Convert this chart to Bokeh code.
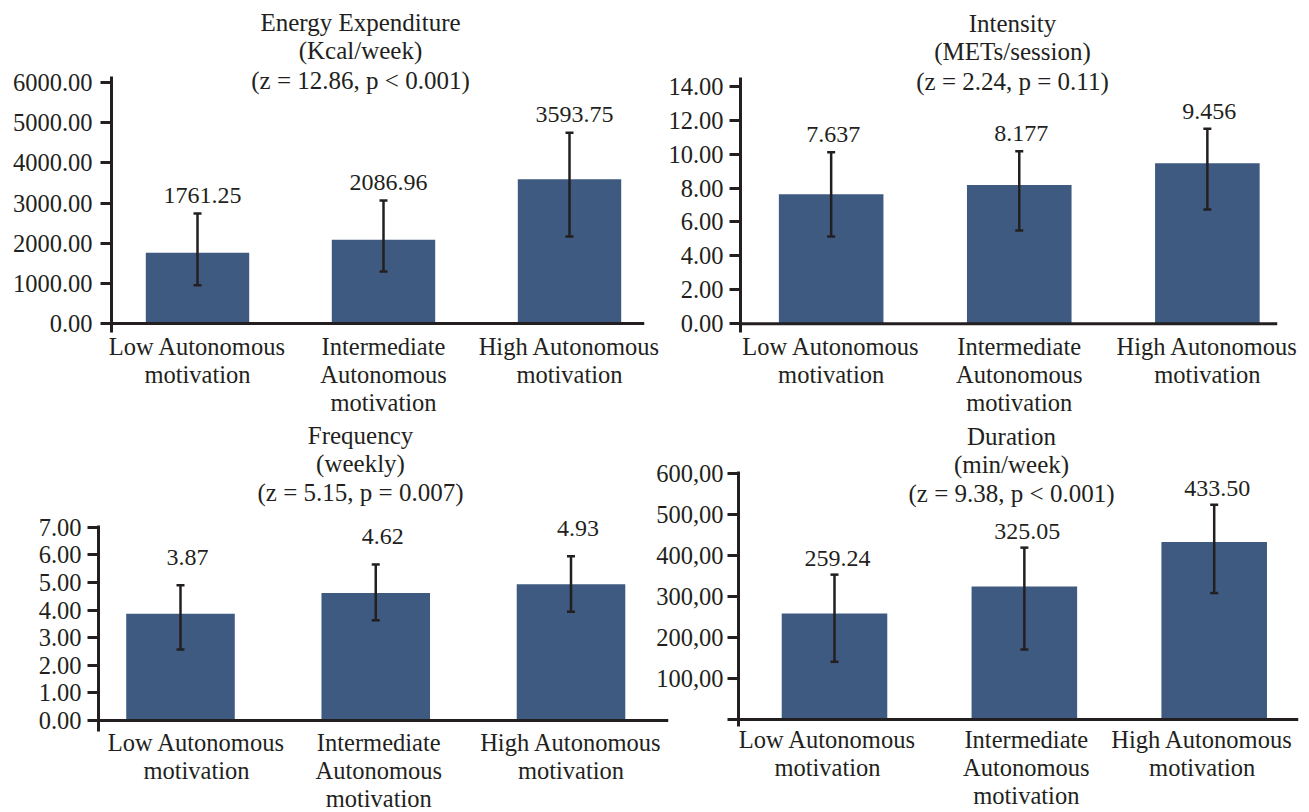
from bokeh.plotting import figure
from bokeh.models import Range1d, FixedTicker, Span, Whisker, TeeHead, ColumnDataSource
from bokeh.layouts import column, row
from bokeh.embed import file_html
from bokeh.resources import INLINE
from bokeh.core.properties import value

# ---------------- data ----------------
categories = ["Low Autonomous\nmotivation",
              "Intermediate\nAutonomous\nmotivation",
              "High Autonomous\nmotivation"]

energy_title = ["Energy Expenditure", "(Kcal/week)", "(z = 12.86, p < 0.001)"]
energy_mean = [1761.25, 2086.96, 3593.75]
energy_upper = [2740, 3060, 4750]
energy_lower = [950, 1295, 2165]
energy_ticks = [0, 1000, 2000, 3000, 4000, 5000, 6000]
energy_tick_labels = ["0.00", "1000.00", "2000.00", "3000.00", "4000.00", "5000.00", "6000.00"]

intensity_title = ["Intensity", "(METs/session)", "(z = 2.24, p = 0.11)"]
intensity_mean = [7.637, 8.177, 9.456]
intensity_upper = [10.11, 10.17, 11.49]
intensity_lower = [5.14, 5.50, 6.74]
intensity_ticks = [0, 2, 4, 6, 8, 10, 12, 14]
intensity_tick_labels = ["0.00", "2.00", "4.00", "6.00", "8.00", "10.00", "12.00", "14.00"]

frequency_title = ["Frequency", "(weekly)", "(z = 5.15, p = 0.007)"]
frequency_mean = [3.87, 4.62, 4.93]
frequency_upper = [4.90, 5.65, 5.95]
frequency_lower = [2.57, 3.63, 3.94]
frequency_ticks = [0, 1, 2, 3, 4, 5, 6, 7]
frequency_tick_labels = ["0.00", "1.00", "2.00", "3.00", "4.00", "5.00", "6.00", "7.00"]

duration_title = ["Duration", "(min/week)", "(z = 9.38, p < 0.001)"]
duration_mean = [259.24, 325.05, 433.50]
duration_upper = [354, 420, 525]
duration_lower = [141, 171, 309]
duration_ticks = [0, 100, 200, 300, 400, 500, 600]
duration_tick_labels = ["", "100,00", "200,00", "300,00", "400,00", "500,00", "600,00"]

# ---------------- style ----------------
FONT = "Liberation Serif"
FS_TITLE = "25px"
FS_TICK = "24.5px"
FS_CAT = "24.5px"
FS_VAL = "24px"
INK = "#231f20"
BAR = "#3e5a80"
LINE_H = 1.05


def panel(cfg, means, upper, lower, fmt, ticks, tick_labels, title_lines):
    W, H = cfg["W"], cfg["H"]
    fl, fr, fb = cfg["fl"], cfg["fr"], cfg["fb"]
    zero, ppu = cfg["zero"], cfg["ppu"]
    c0, dx = cfg["c0"], cfg["dx"]
    cat_text = cfg.get("cat_dy") is not None

    def ydata(py):
        return (zero - py) / ppu

    def xdata(px):
        return (px - c0) / dx

    p = figure(width=W, height=H, title=None,
               x_range=Range1d(xdata(fl), xdata(fr)),
               y_range=Range1d(ydata(fb), ydata(0)),
               min_border_left=fl, min_border_right=W - fr,
               min_border_top=0, min_border_bottom=H - fb,
               output_backend="svg", toolbar_location=None)
    p.outline_line_color = None
    p.xgrid.visible = False
    p.ygrid.visible = False
    p.background_fill_alpha = 0
    p.border_fill_alpha = 0

    xs = list(range(len(categories)))
    src = ColumnDataSource(dict(x=xs, top=means, upper=upper, lower=lower,
                                label=[fmt.format(m) for m in means],
                                cat=categories,
                                cdx=cfg.get("cat_dx", [0] * len(xs))))

    p.vbar(x="x", top="top", bottom=0, width=0.556, source=src,
           fill_color=BAR, line_color=None)

    w = Whisker(base="x", upper="upper", lower="lower", source=src,
                dimension="height", line_color=INK, line_width=2.5, level="overlay",
                upper_head=TeeHead(size=8, line_color=INK, line_width=2.5),
                lower_head=TeeHead(size=8, line_color=INK, line_width=2.5))
    p.add_layout(w)

    p.add_layout(Span(location=0, dimension="width", line_color=INK, line_width=3))

    p.text(x="x", y="upper", text="label", source=src,
           x_offset=cfg["vx"], y_offset=-cfg["vy"],
           text_align="center", text_baseline="middle",
           text_font=value(FONT), text_font_size=FS_VAL, text_color=INK)

    # three-line title
    tsrc = ColumnDataSource(dict(x=[xdata(cfg["tx"])] * 3,
                                 y=[ydata(v) for v in cfg["ty"]],
                                 t=title_lines))
    p.text(x="x", y="y", text="t", source=tsrc, text_align="center",
           text_baseline="middle", text_font=value(FONT),
           text_font_size=FS_TITLE, text_color=INK)

    # y axis
    ya = p.yaxis[0]
    ya.ticker = FixedTicker(ticks=ticks)
    ya.major_label_overrides = {t: l for t, l in zip(ticks, tick_labels)}
    ya.bounds = (ydata(cfg["abot"]), ydata(cfg["atop"]))
    ya.axis_line_color = INK
    ya.axis_line_width = 3
    ya.major_tick_line_color = INK
    ya.major_tick_line_width = 3
    ya.major_tick_out = 11
    ya.major_tick_in = 0
    ya.minor_tick_line_color = None
    ya.major_label_standoff = cfg["ystand"]
    ya.major_label_text_font = FONT
    ya.major_label_text_font_size = FS_TICK
    ya.major_label_text_color = INK

    xa = p.xaxis[0]
    if cat_text:
        # category names as text below the baseline (inside the frame)
        xa.visible = False
        p.text(x="x", y=0, text="cat", source=src, x_offset="cdx",
               y_offset=cfg["cat_dy"],
               text_align="center", text_baseline="top",
               text_line_height=LINE_H, text_font=value(FONT),
               text_font_size=FS_CAT, text_color=INK)
    else:
        xa.ticker = FixedTicker(ticks=xs)
        xa.major_label_overrides = {i: c for i, c in zip(xs, categories)}
        xa.axis_line_color = None
        xa.major_tick_line_color = None
        xa.minor_tick_line_color = None
        xa.major_tick_out = 0
        xa.major_tick_in = 0
        xa.major_label_standoff = cfg["xstand"]
        xa.major_label_text_font = FONT
        xa.major_label_text_font_size = FS_CAT
        xa.major_label_text_color = INK
        xa.major_label_text_line_height = LINE_H
    return p


TOP_H = 420
BOT_H = 392
BOT_Y = TOP_H

# pixel geometry of each panel, relative to its own canvas
cfg1 = dict(W=665, H=TOP_H, fl=111, fr=644, fb=332, abot=332, zero=323,
            ppu=241 / 6000, c0=197, dx=186, atop=76, ystand=8, xstand=0,
            vx=5, vy=18, tx=360, ty=[22, 50, 80])
cfg2 = dict(W=640, H=TOP_H, fl=73, fr=612, fb=332, abot=332, zero=323.3,
            ppu=237.6 / 14, c0=164, dx=188.8, atop=77, ystand=6, xstand=0,
            vx=2, vy=17.5, tx=346, ty=[23, 51, 81])
cfg3 = dict(W=670, H=BOT_H, fl=98, fr=668, fb=BOT_H, abot=731 - BOT_Y,
            zero=720 - BOT_Y, ppu=193.3 / 7, c0=180, dx=195.25,
            atop=525 - BOT_Y, ystand=6, cat_dy=8, cat_dx=[16, 3, 0],
            vx=7, vy=28, tx=360,
            ty=[435 - BOT_Y, 463 - BOT_Y, 491.7 - BOT_Y])
cfg4 = dict(W=653, H=BOT_H, fl=86, fr=646, fb=BOT_H, abot=726 - BOT_Y,
            zero=719 - BOT_Y, ppu=0.4092, c0=182, dx=189.85,
            atop=471 - BOT_Y, ystand=4, cat_dy=6, cat_dx=[-7, 2, -12],
            vx=3, vy=16, tx=359,
            ty=[436 - BOT_Y, 464 - BOT_Y, 493.3 - BOT_Y])

p1 = panel(cfg1, energy_mean, energy_upper, energy_lower, "{:.2f}",
           energy_ticks, energy_tick_labels, energy_title)
p2 = panel(cfg2, intensity_mean, intensity_upper, intensity_lower, "{:.3f}",
           intensity_ticks, intensity_tick_labels, intensity_title)
p3 = panel(cfg3, frequency_mean, frequency_upper, frequency_lower, "{:.2f}",
           frequency_ticks, frequency_tick_labels, frequency_title)
p4 = panel(cfg4, duration_mean, duration_upper, duration_lower, "{:.2f}",
           duration_ticks, duration_tick_labels, duration_title)
p4.margin = (0, 0, 0, -18)

layout = column(row(p1, p2), row(p3, p4))
open("out.html", "w").write(file_html(layout, INLINE))
